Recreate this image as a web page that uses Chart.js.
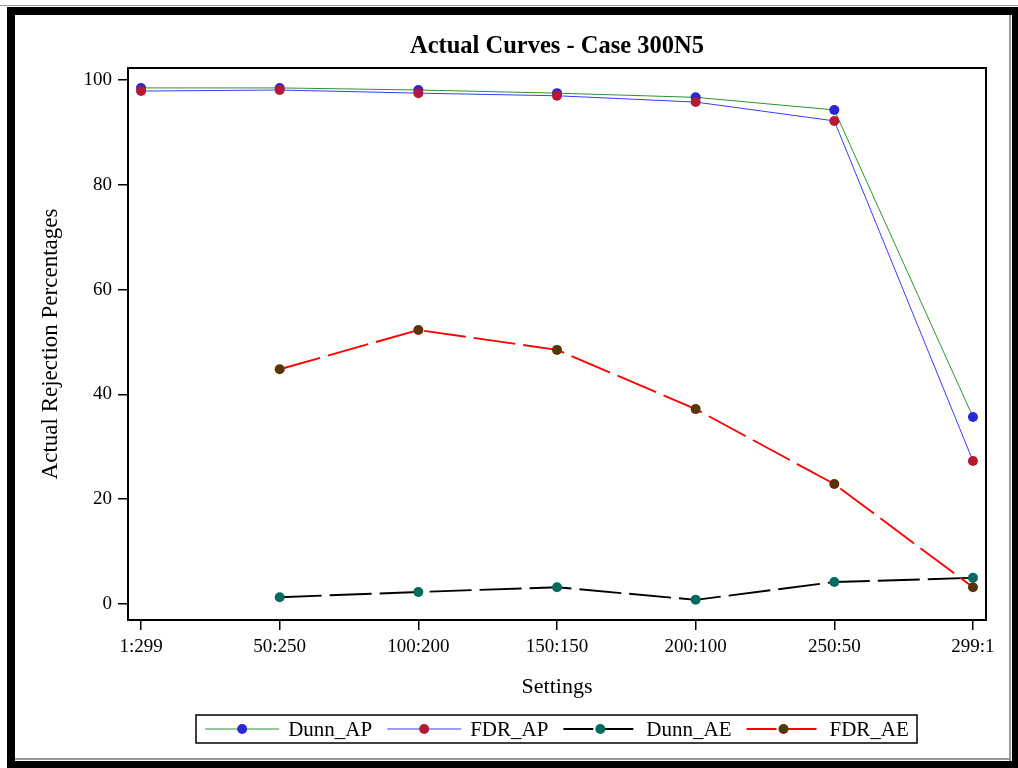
<!DOCTYPE html>
<html>
<head>
<meta charset="utf-8">
<title>Actual Curves - Case 300N5</title>
<script src="https://cdn.jsdelivr.net/npm/chart.js@4.4.1/dist/chart.umd.min.js"></script>
<style>
html, body { margin: 0; padding: 0; background: #fff; }
#wrap { width: 1018px; height: 768px; }
</style>
</head>
<body>
<div id="wrap"><canvas id="chart" width="1018" height="768"></canvas></div>
<script>
// settings on the x axis
var settings = ["1:299", "50:250", "100:200", "150:150", "200:100", "250:50", "299:1"];
// actual rejection percentages
var dunnAP = [98.5, 98.5, 98.1, 97.5, 96.7, 94.3, 35.7];
var fdrAP  = [97.9, 98.1, 97.5, 97.0, 95.8, 92.2, 27.3];
var dunnAE = [null, 1.3, 2.3, 3.2, 0.8, 4.2, 5.0];
var fdrAE  = [null, 44.8, 52.3, 48.5, 37.2, 22.9, 3.2];
var yTicks = [0, 20, 40, 60, 80, 100];

var SERIF = '"Liberation Serif", "Times New Roman", serif';
var DOT = 5;

function pts(arr) {
	var out = [];
	for (var i = 0; i < arr.length; i++) {
		if (arr[i] !== null) out.push({x: i, y: arr[i]});
	}
	return out;
}

function series(label, arr, lineColor, markColor, dash, width, order) {
	return {
		label: label,
		data: pts(arr),
		borderColor: lineColor,
		borderWidth: width,
		borderDash: dash,
		backgroundColor: markColor,
		pointBackgroundColor: markColor,
		pointBorderColor: markColor,
		pointBorderWidth: 0,
		pointRadius: DOT,
		pointHoverRadius: DOT,
		tension: 0,
		fill: false,
		order: order
	};
}

// frame, titles, plot border and the legend box
var decor = {
	id: 'decor',
	afterDraw: function(chart) {
		var ctx = chart.ctx, a = chart.chartArea;
		ctx.save();
		// outer frame
		ctx.fillStyle = '#000';
		ctx.fillRect(7, 7, 1011, 8);
		ctx.fillRect(7, 7, 8, 761);
		ctx.fillRect(1012, 7, 6, 761);
		ctx.fillRect(7, 761, 1011, 7);
		ctx.fillStyle = '#999';
		ctx.fillRect(0, 5, 1018, 1);
		ctx.fillRect(1009, 15, 2, 746);
		ctx.fillRect(15, 758, 996, 2);

		// plot border
		ctx.strokeStyle = '#000';
		ctx.lineWidth = 2;
		ctx.strokeRect(a.left, a.top, a.right - a.left, a.bottom - a.top);

		var cx = (a.left + a.right) / 2;
		ctx.fillStyle = '#000';
		ctx.textAlign = 'center';
		ctx.textBaseline = 'alphabetic';
		ctx.font = 'bold 24.5px ' + SERIF;
		ctx.fillText('Actual Curves - Case 300N5', cx, 53);
		ctx.font = '22px ' + SERIF;
		ctx.fillText('Settings', cx, 693);
		ctx.save();
		ctx.translate(57, (a.top + a.bottom) / 2);
		ctx.rotate(-Math.PI / 2);
		ctx.font = '23px ' + SERIF;
		ctx.fillText('Actual Rejection Percentages', 0, 0);
		ctx.restore();

		// legend
		var ds = chart.data.datasets;
		ctx.font = '21px ' + SERIF;
		var lineLen = 74, gapTxt = 9, gapItem = 15, total = 0;
		for (var i = 0; i < ds.length; i++) {
			total += lineLen + gapTxt + ctx.measureText(ds[i].label).width;
		}
		total += gapItem * (ds.length - 1);
		var x = cx - total / 2, ly = 729;
		ctx.lineWidth = 1.5;
		ctx.strokeStyle = '#000';
		ctx.strokeRect(196, 715, 721, 28);
		for (var k = 0; k < ds.length; k++) {
			var d = ds[k];
			ctx.strokeStyle = d.borderColor;
			ctx.lineWidth = d.borderWidth;
			ctx.setLineDash(d.borderDash.length ? [30, 10] : []);
			ctx.beginPath();
			ctx.moveTo(x, ly);
			ctx.lineTo(x + lineLen, ly);
			ctx.stroke();
			ctx.setLineDash([]);
			ctx.fillStyle = d.pointBackgroundColor;
			ctx.beginPath();
			ctx.arc(x + lineLen / 2, ly, DOT, 0, Math.PI * 2);
			ctx.fill();
			ctx.fillStyle = '#000';
			ctx.textAlign = 'left';
			ctx.textBaseline = 'middle';
			ctx.fillText(d.label, x + lineLen + gapTxt, ly + 1);
			x += lineLen + gapTxt + ctx.measureText(d.label).width + gapItem;
		}
		ctx.restore();
	}
};

var tickFont = {family: SERIF, size: 19};

new Chart(document.getElementById('chart'), {
	type: 'line',
	data: {
		datasets: [
			series('Dunn_AP', dunnAP, '#2a942a', '#2828d4', [], 1, 4),
			series('FDR_AP', fdrAP, '#3a3aff', '#b41a32', [], 1, 3),
			series('Dunn_AE', dunnAE, '#000000', '#006b5e', [42, 8], 1.9, 2),
			series('FDR_AE', fdrAE, '#ff0000', '#5a3408', [42, 8], 1.9, 1)
		]
	},
	options: {
		responsive: false,
		animation: false,
		devicePixelRatio: 1,
		layout: {padding: {left: 0, top: 68, right: 32, bottom: 108}},
		plugins: {
			legend: {display: false},
			title: {display: false},
			tooltip: {enabled: false}
		},
		scales: {
			x: {
				type: 'linear',
				min: -0.094,
				max: 6.094,
				afterBuildTicks: function(s) {
					s.ticks = settings.map(function(_, i) { return {value: i}; });
				},
				afterFit: function(s) { s.height = 40; },
				ticks: {
					callback: function(v) { return settings[v]; },
					font: tickFont,
					color: '#000',
					padding: 6,
					maxRotation: 0,
					autoSkip: false
				},
				grid: {drawOnChartArea: false, color: '#000', tickLength: 10, lineWidth: 1.5},
				border: {display: false}
			},
			y: {
				min: -3.05,
				max: 102.3,
				afterBuildTicks: function(s) {
					s.ticks = yTicks.map(function(v) { return {value: v}; });
				},
				afterFit: function(s) { s.width = 128; },
				ticks: {font: tickFont, color: '#000', padding: 6},
				grid: {drawOnChartArea: false, color: '#000', tickLength: 10, lineWidth: 1.5},
				border: {display: false}
			}
		}
	},
	plugins: [decor]
});
</script>
</body>
</html>
